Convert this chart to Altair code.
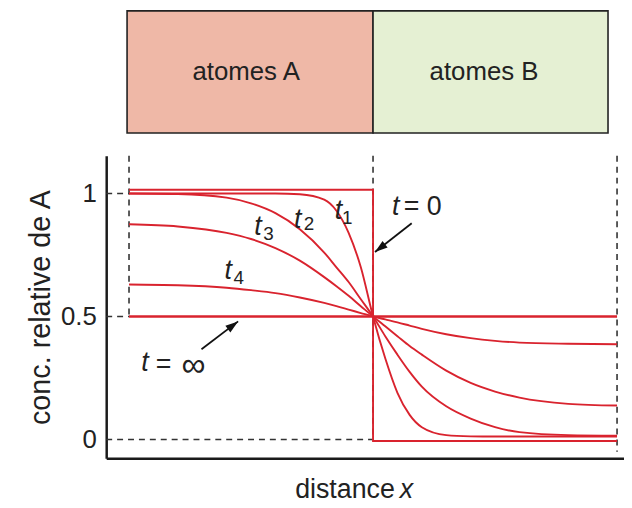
import altair as alt
import pandas as pd

RED = "#d9232e"
INK = "#222222"
FONT = "Liberation Sans"

# sample positions along the distance axis (interface at 0, blocks from -1 to 1)
X = [-1, -0.8, -0.6, -0.5, -0.4, -0.3, -0.2, -0.15, -0.1, -0.05, 0,
     0.05, 0.1, 0.15, 0.2, 0.3, 0.4, 0.5, 0.6, 0.8, 1]
T1 = [1.0, 1.0, 1.0, 1.0, 1.0, 0.997, 0.975, 0.93, 0.84, 0.70, 0.5,
      0.33, 0.19, 0.10, 0.05, 0.018, 0.013, 0.012, 0.012, 0.012, 0.012]
T2 = [1.0, 0.998, 0.983, 0.96, 0.92, 0.855, 0.76, 0.70, 0.64, 0.57, 0.5,
      0.42, 0.345, 0.275, 0.215, 0.135, 0.085, 0.05, 0.03, 0.018, 0.016]
T3 = [0.875, 0.866, 0.84, 0.815, 0.778, 0.727, 0.66, 0.623, 0.584, 0.542, 0.5,
      0.46, 0.42, 0.38, 0.345, 0.28, 0.23, 0.195, 0.17, 0.145, 0.138]
T4 = [0.63, 0.627, 0.617, 0.607, 0.595, 0.577, 0.555, 0.542, 0.528, 0.514, 0.5,
      0.488, 0.476, 0.463, 0.45, 0.428, 0.412, 0.401, 0.394, 0.389, 0.387]
T0_X = [-1, 0, 0, 1]
T0_C = [1.015, 1.015, -0.006, -0.006]
TINF_X = [-1, 1]
TINF_C = [0.5, 0.5]

Y_TICKS = [0, 0.5, 1]

# blocks above the plot
BLOCK_LABELS = ["atomes A", "atomes B"]
BLOCK_X0 = [-1.008, 0.0]
BLOCK_X1 = [0.0, 0.963]
BLOCK_FILL = ["#efb8a7", "#e5f0d3"]
BLOCK_Y0 = 1.246
BLOCK_Y1 = 1.742
BLOCK_TEXT_X = [-0.52, 0.455]
BLOCK_TEXT_Y = 1.492

XMIN, XMAX = -1.0935, 1.0285
YMIN, YMAX = -0.0766, 1.153

rows = []
for name, vals in [("t1", T1), ("t2", T2), ("t3", T3), ("t4", T4)]:
    for i, (x, c) in enumerate(zip(X, vals)):
        rows.append({"t": name, "i": i, "x": x, "y": c})
curves = pd.DataFrame(rows)
step = pd.DataFrame({"t": ["t0"] * 4, "i": range(4), "x": T0_X, "y": T0_C})
flat = pd.DataFrame({"t": ["tinf"] * 2, "i": range(2), "x": TINF_X, "y": TINF_C})

xs = alt.Scale(domain=[XMIN, XMAX], nice=False, zero=False)
ys = alt.Scale(domain=[YMIN, YMAX], nice=False, zero=False)
xaxis = alt.Axis(title=None, labels=False, ticks=False, grid=False,
                 domainColor="#1a1a1a", domainWidth=2.5)
yaxis = alt.Axis(title="conc. relative de A", values=Y_TICKS, labelExpr="datum.value",
                 ticks=False, tickSize=0, grid=False, labelPadding=10,
                 labelFont=FONT, labelFontSize=26, labelColor=INK,
                 titleFont=FONT, titleFontSize=29, titleFontWeight="normal",
                 titleColor=INK, titlePadding=5,
                 domainColor="#1a1a1a", domainWidth=2.5)
XE = alt.X("x:Q", scale=xs, axis=xaxis)
YE = alt.Y("y:Q", scale=ys, axis=yaxis)

# dashed guide lines
dash = pd.DataFrame({
    "x": [-1, 0, 1, XMIN, XMIN, XMIN],
    "x2": [-1, 0, 1, -1, -1, 0],
    "y": [YMAX, YMAX, YMAX, 1, 0.5, 0],
    "y2": [0.5, 0, -0.05, 1, 0.5, 0],
})
dashes = alt.Chart(dash).mark_rule(color="#333333", strokeWidth=1.6, strokeDash=[6, 5]).encode(
    x=XE, y=YE, x2="x2:Q", y2="y2:Q")

blocks = pd.DataFrame({"x": BLOCK_X0, "x2": BLOCK_X1, "y": [BLOCK_Y0] * 2,
                       "y2": [BLOCK_Y1] * 2, "fill": BLOCK_FILL})
rects = alt.Chart(blocks).mark_rect(stroke="#222222", strokeWidth=1.6).encode(
    x=XE, x2="x2:Q", y=YE, y2="y2:Q", fill=alt.Fill("fill:N", scale=None))
btext = alt.Chart(pd.DataFrame({"x": BLOCK_TEXT_X, "y": [BLOCK_TEXT_Y] * 2,
                                "label": BLOCK_LABELS})).mark_text(
    font=FONT, fontSize=26, color=INK, align="center", baseline="middle").encode(
    x=XE, y=YE, text="label:N")

lines = alt.Chart(curves).mark_line(color=RED, strokeWidth=1.9, interpolate="monotone").encode(
    x=XE, y=YE, detail="t:N", order="i:Q")
stepline = alt.Chart(step).mark_line(color=RED, strokeWidth=1.9).encode(
    x=XE, y=YE, order="i:Q")
flatline = alt.Chart(flat).mark_line(color=RED, strokeWidth=2.6).encode(
    x=XE, y=YE, order="i:Q")

# arrows (tail -> tip)
ARROW_X = [-0.703, 0.1585]
ARROW_Y = [0.367, 0.879]
ARROW_X2 = [-0.553, 0.008]
ARROW_Y2 = [0.480, 0.762]
ARROW_ANGLE = [53, 232]
arr = pd.DataFrame({"x": ARROW_X, "y": ARROW_Y, "x2": ARROW_X2, "y2": ARROW_Y2,
                    "angle": ARROW_ANGLE})
shafts = alt.Chart(arr).mark_rule(color="#111111", strokeWidth=1.8).encode(
    x=XE, y=YE, x2="x2:Q", y2="y2:Q")
heads = alt.Chart(arr).mark_point(shape="M0,0L-0.45,1.4L0.45,1.4Z", filled=True,
                                  color="#111111", size=340, opacity=1).encode(
    x=alt.X("x2:Q", scale=xs, axis=xaxis), y=alt.Y("y2:Q", scale=ys, axis=yaxis),
    angle=alt.Angle("angle:Q", scale=None))

# italic "t" labels
IT_TEXT = ["t", "t", "t", "t", "t", "t"]
IT_X = [-0.142, -0.309, -0.472, -0.593, 0.093, -0.935]
IT_Y = [0.927, 0.891, 0.863, 0.685, 0.944, 0.310]
it = alt.Chart(pd.DataFrame({"x": IT_X, "y": IT_Y, "label": IT_TEXT})).mark_text(
    font=FONT, fontSize=27, fontStyle="italic", color=INK, align="center",
    baseline="middle").encode(x=XE, y=YE, text="label:N")

SUB_TEXT = ["1", "2", "3", "4"]
SUB_X = [-0.106, -0.262, -0.428, -0.550]
SUB_Y = [0.899, 0.875, 0.835, 0.657]
sub = alt.Chart(pd.DataFrame({"x": SUB_X, "y": SUB_Y, "label": SUB_TEXT})).mark_text(
    font=FONT, fontSize=19, color=INK, align="center", baseline="middle").encode(
    x=XE, y=YE, text="label:N")

EQ_TEXT = ["= 0", "="]
EQ_X = [0.126, -0.890]
EQ_Y = [0.944, 0.302]
eq = alt.Chart(pd.DataFrame({"x": EQ_X, "y": EQ_Y, "label": EQ_TEXT})).mark_text(
    font=FONT, fontSize=27, color=INK, align="left", baseline="middle").encode(
    x=XE, y=YE, text="label:N")
inf = alt.Chart(pd.DataFrame({"x": [-0.785], "y": [0.300], "label": ["∞"]})).mark_text(
    font=FONT, fontSize=34, color=INK, align="left", baseline="middle").encode(
    x=XE, y=YE, text="label:N")

XT_TEXT = ["distance"]
xt = alt.Chart(pd.DataFrame({"x": [0.0894], "y": [-0.238], "label": XT_TEXT})).mark_text(
    font=FONT, fontSize=27, color=INK, align="right", baseline="alphabetic").encode(
    x=XE, y=YE, text="label:N")
xi = alt.Chart(pd.DataFrame({"x": [0.1098], "y": [-0.238], "label": ["x"]})).mark_text(
    font=FONT, fontSize=27, fontStyle="italic", color=INK, align="left",
    baseline="alphabetic").encode(x=XE, y=YE, text="label:N")

chart = alt.layer(
    rects, btext, dashes, lines, stepline, flatline, shafts, heads, it, sub, eq, inf, xt, xi
).properties(
    width=522, height=305,
    autosize=alt.AutoSizeParams(type="none"),
    padding={"left": 99, "top": 147, "right": 0, "bottom": 46},
).configure_view(stroke=None)

chart.save("out.html", embed_options={"renderer": "svg", "actions": False})
